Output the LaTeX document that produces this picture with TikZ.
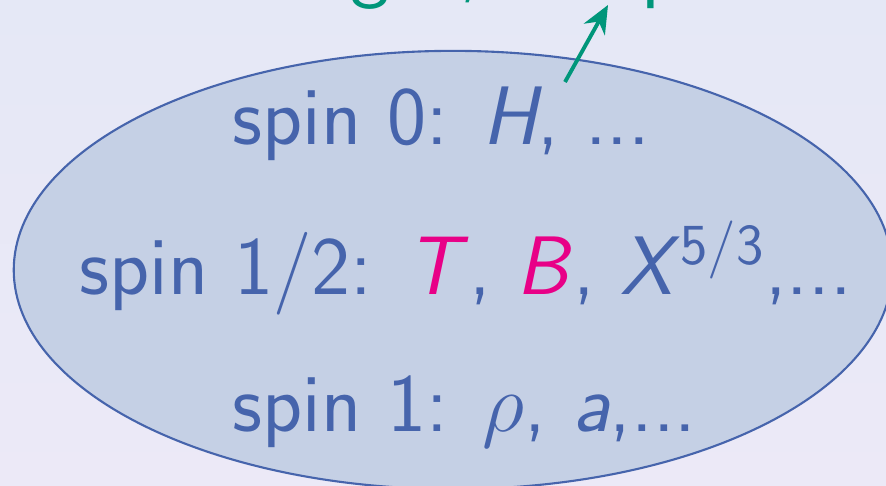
\documentclass[tikz,border=0pt]{standalone}
\usepackage{fix-cm}
\usepackage{amsmath}
\usepackage{fontspec}
\usetikzlibrary{arrows.meta}
\definecolor{spinblue}{RGB}{70,100,172}
\definecolor{blobfill}{RGB}{197,208,229}
\definecolor{hotpink}{RGB}{232,0,135}
\definecolor{tealish}{RGB}{0,150,122}
\definecolor{bgtop}{RGB}{229,232,246}
\definecolor{bgbot}{RGB}{236,233,247}
\newcommand{\sv}[1]{\textit{#1}}
\tikzset{
blob/.style={draw=spinblue,fill=blobfill,line width=0.6pt},
spinline/.style={anchor=base west,inner sep=0pt,text=spinblue},
note/.style={anchor=base west,inner sep=0pt,text=tealish},
pointer/.style={-{Stealth[length=2.8mm,width=2.4mm,inset=0.9mm]},line width=1.1pt,tealish}
}

\begin{document}
\begin{tikzpicture}[x=0.01cm,y=-0.01cm,every node/.style={font=\fontsize{23.6}{28}\selectfont\sffamily}]
\useasboundingbox (0,0) rectangle (886,486);
\fill[top color=bgtop,bottom color=bgbot] (0,0) rectangle (886,486);
\clip (0,0) rectangle (886,486);
\draw[blob] (453,270) ellipse [x radius=4.39cm,y radius=2.19cm];
\node[note] (top) at (313,-7) {light, composite};
\node[spinline] (s0) at (232,145) {spin 0: \sv{H}, ...};
\node[spinline] (s12) at (79,295) {spin 1$/$2: \textcolor{hotpink}{\sv{T}}, \textcolor{hotpink}{\sv{B}}, \sv{X}$^{\mathsf{5}/\mathsf{3}}$,...};
\node[spinline] (s1) at (232,432) {spin 1: $\rho$, \sv{a},...};
\coordinate (tail) at (565,82);
\coordinate (head) at (608,5);
\draw[pointer] (tail) -- (head);
\end{tikzpicture}
\end{document}
